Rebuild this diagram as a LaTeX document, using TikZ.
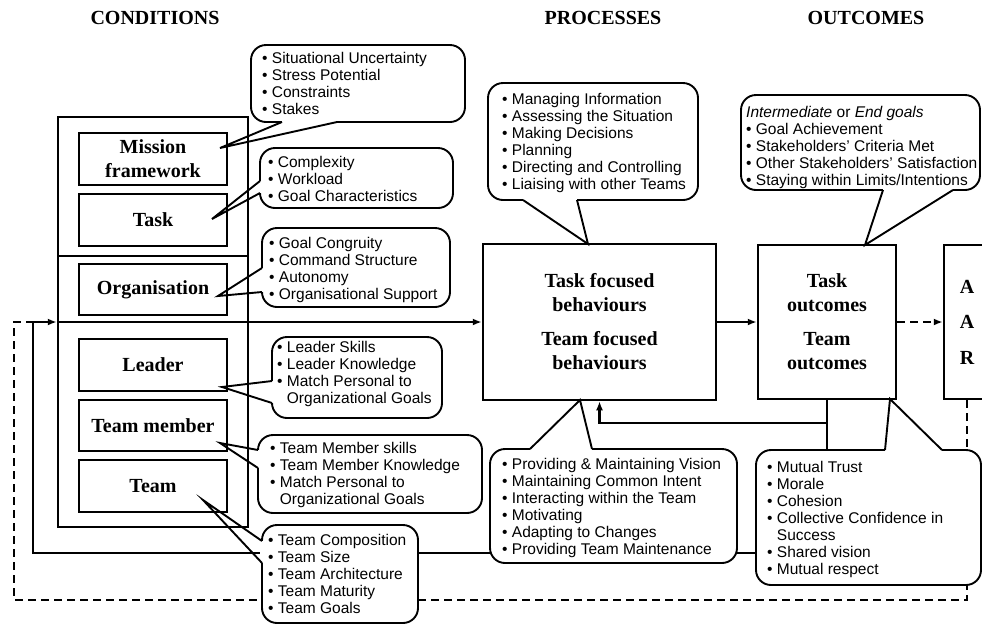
\documentclass[tikz,border=0pt]{standalone}
\usepackage{fontspec}
\setmainfont{Liberation Serif}
\setsansfont{Liberation Sans}
\usetikzlibrary{arrows.meta}
\newcommand\bitem{\textbullet\ }
\newcommand\bcont{\phantom{\textbullet\ }}
\begin{document}
\begin{tikzpicture}[x=1pt,y=-1pt,
  sbox/.style={draw, line width=2.5pt, inner sep=0pt, align=center, font=\fontsize{20}{24}\selectfont\bfseries},
  bubble/.style={draw, line width=1.9pt, fill=white, rounded corners=15pt},
  ptr/.style={line width=1.9pt, line join=miter},
  gapline/.style={draw=white, line width=3.8pt},
  ctext/.style={anchor=north west, inner sep=0pt, align=left, font=\fontsize{15.5}{17}\selectfont\sffamily},
  conn/.style={line width=2.4pt},
  arr/.style={line width=2.4pt, -{Latex[length=9pt,width=7pt]}},
  dashline/.style={line width=2.4pt, dash pattern=on 8pt off 5pt},
  hdr/.style={font=\fontsize{20}{24}\selectfont\bfseries}
]
\useasboundingbox (0,0) rectangle (982,638);
\clip (0,0) rectangle (982,638);

% headers
\node[hdr] (hcond) at (155,18) {CONDITIONS};
\node[hdr] (hproc) at (603,18) {PROCESSES};
\node[hdr] (hout) at (866,18) {OUTCOMES};

% conditions column
\node[sbox, minimum width=190, minimum height=410] (outer) at (153,322) {};
\draw[conn] (58,256) -- (248,256);
\node[sbox, minimum width=148, minimum height=52] (mission) at (153,159) {Mission\\framework};
\node[sbox, minimum width=148, minimum height=52] (task) at (153,220) {Task};
\node[sbox, minimum width=148, minimum height=51] (org) at (153,289.5) {Organisation};
\node[sbox, minimum width=148, minimum height=52] (leader) at (153,365) {Leader};
\node[sbox, minimum width=148, minimum height=51] (member) at (153,425.5) {Team member};
\node[sbox, minimum width=148, minimum height=52] (team) at (153,486) {Team};

% process and outcome boxes
\node[sbox, minimum width=233, minimum height=156] (center) at (599.5,322) {Task focused\\behaviours\\[10pt]Team focused\\behaviours};
\node[sbox, minimum width=138, minimum height=154] (outc) at (827,322) {Task\\outcomes\\[10pt]Team\\outcomes};
\node[sbox, minimum width=46, minimum height=154, font=\fontsize{20}{35.5}\selectfont\bfseries] (aar) at (967,322) {A\\A\\R};

% connectors
\draw[conn] (outer.west) -- (outer.east);
\draw[arr] (outer.east) -- (center.west);
\draw[arr] (center.east) -- (outc.west);
\draw[dashline, -{Latex[length=9pt,width=7pt]}] (outc.east) -- (aar.west);
\coordinate (cb) at (827,450);
\coordinate (fb) at (827,423);
\draw[conn] (outc.south) -- (cb);
\draw[arr] (fb) -| (center.south);
\coordinate (fbR) at (800,553);
\coordinate (fbL) at (33,553);
\coordinate (fbT) at (33,322);
\draw[arr] (fbR) -- (fbL) -- (fbT) -- (outer.west);
\coordinate (d1) at (967,600);
\coordinate (d2) at (14,600);
\coordinate (d3) at (14,322);
\draw[dashline] (aar.south) -- (d1) -- (d2) -- (d3) -- (fbT);

% callouts
% 1 mission
\draw[bubble] (251,45) rectangle (465,122);
\draw[gapline] (282,122) -- (337,122);
\draw[ptr] (282,122) -- (220,148) -- (337,122);
% 2 task
\draw[bubble] (260,148) rectangle (453,208);
\draw[gapline] (260,181) -- (260,193);
\draw[ptr] (260,181) -- (212,219) -- (260,193);
% 3 organisation
\draw[bubble] (262,228) rectangle (450,307);
\draw[gapline] (262,268) -- (262,292);
\draw[ptr] (262,268) -- (218,296) -- (262,292);
% 4 leader
\draw[bubble] (272,337) rectangle (442,418);
\draw[gapline] (272,381) -- (272,403);
\draw[ptr] (272,381) -- (222,387) -- (272,403);
% 5 team member
\draw[bubble] (258,435) rectangle (482,513);
\draw[gapline] (258,450) -- (258,468);
\draw[ptr] (258,450) -- (220,443) -- (258,468);
% 6 team
\draw[bubble] (262,525) rectangle (418,623);
\draw[gapline] (262,541) -- (262,563);
\draw[ptr] (262,541) -- (203,500) -- (262,563);
% 7 processes top
\draw[bubble] (488,83) rectangle (698,200);
\draw[gapline] (523,200) -- (577,200);
\draw[ptr] (523,200) -- (588,244) -- (577,200);
% 8 outcomes top
\draw[bubble] (741,95) rectangle (980,190);
\draw[gapline] (883,190) -- (953,190);
\draw[ptr] (883,190) -- (865,245) -- (953,190);
% 9 processes bottom
\draw[bubble] (490,449) rectangle (737,563);
\draw[gapline] (530,449) -- (592,449);
\draw[ptr] (530,449) -- (580,400) -- (592,449);
% 10 outcomes bottom
\draw[bubble] (756,450) rectangle (981,585);
\draw[gapline] (885,450) -- (942,450);
\draw[ptr] (885,450) -- (890,399) -- (942,450);

% callout texts
\node[ctext] (t1) at (262,52) {\bitem Situational Uncertainty\\\bitem Stress Potential\\\bitem Constraints\\\bitem Stakes};
\node[ctext] (t2) at (268,156) {\bitem Complexity\\\bitem Workload\\\bitem Goal Characteristics};
\node[ctext] (t3) at (269,237) {\bitem Goal Congruity\\\bitem Command Structure\\\bitem Autonomy\\\bitem Organisational Support};
\node[ctext] (t4) at (277,341) {\bitem Leader Skills\\\bitem Leader Knowledge\\\bitem Match Personal to\\\bcont Organizational Goals};
\node[ctext] (t5) at (270,442) {\bitem Team Member skills\\\bitem Team Member Knowledge\\\bitem Match Personal to\\\bcont Organizational Goals};
\node[ctext] (t6) at (268,534) {\bitem Team Composition\\\bitem Team Size\\\bitem Team Architecture\\\bitem Team Maturity\\\bitem Team Goals};
\node[ctext] (t7) at (502,93) {\bitem Managing Information\\\bitem Assessing the Situation\\\bitem Making Decisions\\\bitem Planning\\\bitem Directing and Controlling\\\bitem Liaising with other Teams};
\node[ctext] (t8) at (746,106) {\textit{Intermediate} or \textit{End goals}\\\bitem Goal Achievement\\\bitem Stakeholders' Criteria Met\\\bitem Other Stakeholders' Satisfaction\\\bitem Staying within Limits/Intentions};
\node[ctext] (t9) at (502,458) {\bitem Providing \& Maintaining Vision\\\bitem Maintaining Common Intent\\\bitem Interacting within the Team\\\bitem Motivating\\\bitem Adapting to Changes\\\bitem Providing Team Maintenance};
\node[ctext] (t10) at (767,461) {\bitem Mutual Trust\\\bitem Morale\\\bitem Cohesion\\\bitem Collective Confidence in\\\bcont Success\\\bitem Shared vision\\\bitem Mutual respect};
\end{tikzpicture}
\end{document}
